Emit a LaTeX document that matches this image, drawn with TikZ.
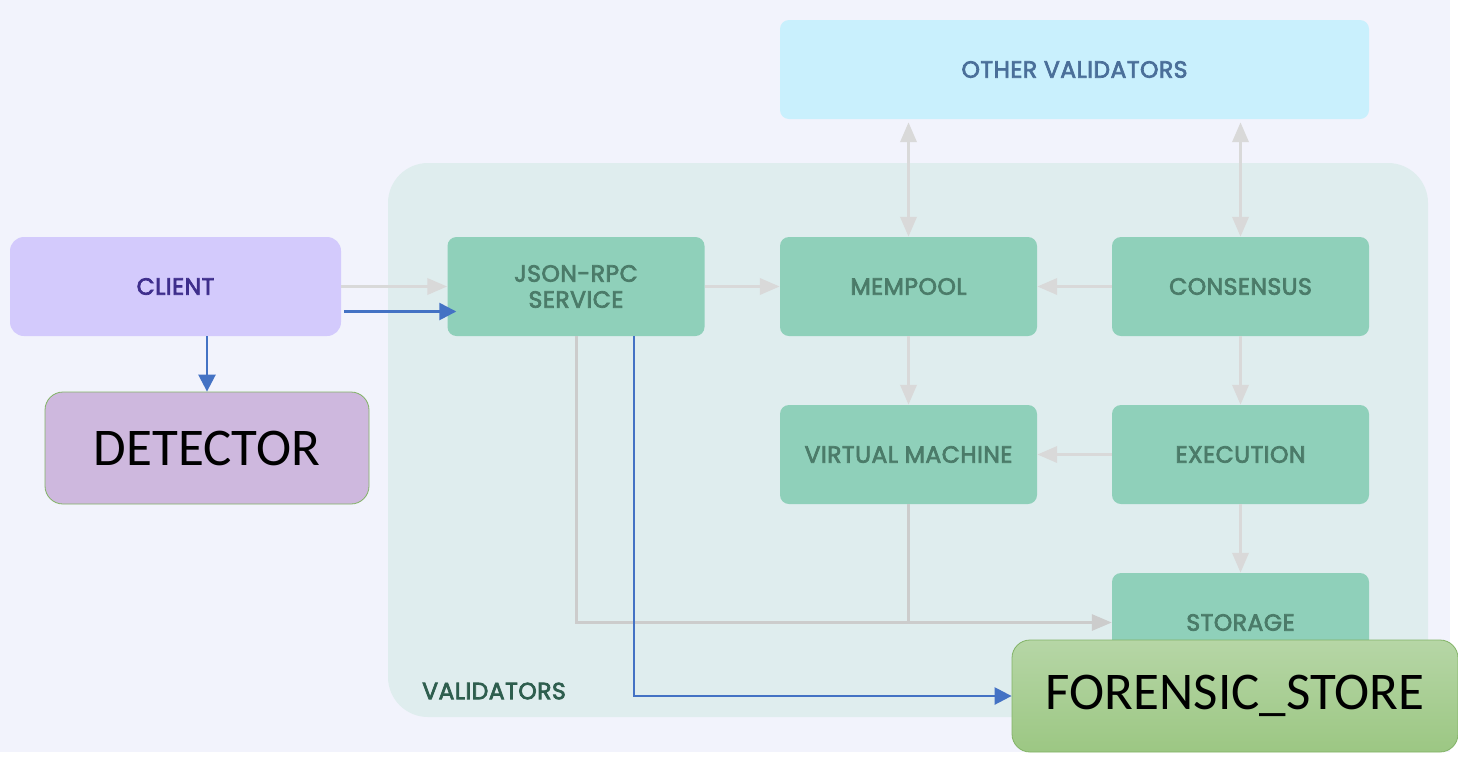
\documentclass[tikz,border=0pt]{standalone}
\usepackage{fontspec}
\setmainfont{Poppins}
\newfontfamily\lblfont{Poppins}[FakeBold=3, LetterSpace=2]
\newfontfamily\calib{Carlito}
\usetikzlibrary{arrows.meta,calc}
\definecolor{bg}{HTML}{F2F3FC}
\definecolor{contfill}{HTML}{DFEDEE}
\definecolor{conttext}{HTML}{2E5E4E}
\definecolor{otherfill}{HTML}{C9F0FD}
\definecolor{othertext}{HTML}{4A6F99}
\definecolor{clientfill}{HTML}{D3CAFC}
\definecolor{clienttext}{HTML}{3E2E8C}
\definecolor{detfill}{HTML}{CEB8DE}
\definecolor{greenborder}{HTML}{82B366}
\definecolor{boxfill}{HTML}{8FD0BA}
\definecolor{boxtext}{HTML}{4B7B69}
\definecolor{fstop}{HTML}{B6D6A6}
\definecolor{fsbot}{HTML}{9CC783}
\definecolor{garr}{HTML}{D9D9D9}
\definecolor{garrdark}{HTML}{CCCCCC}
\definecolor{barr}{HTML}{4472C4}
\begin{document}
\begin{tikzpicture}[x=1pt,y=-1pt,
  lbl/.style={font=\lblfont\fontsize{23.5}{26}\selectfont},
  vbox/.style={lbl, rounded corners=9pt, fill=boxfill, text=boxtext, minimum width=257pt, minimum height=99pt, inner sep=0pt, align=center},
  garrow/.style={draw=garr, line width=3.5pt, -{Triangle[length=20pt,width=16pt]}},
  gdarrow/.style={draw=garrdark, line width=3pt, -{Triangle[length=20pt,width=16pt]}},
  gline/.style={draw=garrdark, line width=3pt},
  barrow/.style={draw=barr, line width=2.5pt, -{Triangle[length=17pt,width=17pt]}},
  bigtext/.style={font=\calib\fontsize{53}{60}\selectfont, text=black}
]
\useasboundingbox (0,0) rectangle (1458,756);
\fill[white] (0,0) rectangle (1458,756);
\fill[bg] (0,0) rectangle (1450,752);

% container
\node[fill=contfill, rounded corners=40pt, minimum width=1040pt, minimum height=554pt, inner sep=0pt] (val) at (908,440) {};
\node[lbl, text=conttext, anchor=west, inner sep=0pt] (vallbl) at (422,691) {VALIDATORS};

% boxes
\node[lbl, fill=otherfill, text=othertext, rounded corners=9pt, minimum width=589pt, minimum height=99pt, inner sep=0pt] (other) at (1074.5,69.5) {OTHER VALIDATORS};
\node[lbl, fill=clientfill, text=clienttext, rounded corners=14pt, minimum width=331pt, minimum height=99pt, inner sep=0pt] (client) at (175.5,286.5) {CLIENT};
\node[bigtext, fill=detfill, draw=greenborder, line width=0.8pt, rounded corners=18pt, minimum width=324pt, minimum height=112pt, inner sep=0pt] (det) at (207,448) {DETECTOR};

\node[vbox] (json) at (576,286.5) {JSON-RPC\\SERVICE};
\node[vbox] (mem) at (908.5,286.5) {MEMPOOL};
\node[vbox] (cons) at (1240.5,286.5) {CONSENSUS};
\node[vbox] (vm) at (908.5,454.5) {VIRTUAL MACHINE};
\node[vbox] (exec) at (1240.5,454.5) {EXECUTION};
\node[vbox] (stor) at (1240.5,622.5) {STORAGE};

% gray connectors
\draw[garrow] (client.east) -- (json.west);
\draw[garrow] (json.east) -- (mem.west);
\draw[garrow] (cons.west) -- (mem.east);
\draw[garrow] (mem.south) -- (vm.north);
\draw[garrow] (cons.south) -- (exec.north);
\draw[garrow] (exec.west) -- (vm.east);
\draw[garrow] (exec.south) -- (stor.north);
\draw[garrow, {Triangle[length=20pt,width=16pt]}-{Triangle[length=20pt,width=16pt]}] (mem.north) -- ([yshift=-3pt]mem.north |- other.south);
\draw[garrow, {Triangle[length=20pt,width=16pt]}-{Triangle[length=20pt,width=16pt]}] (cons.north) -- ([yshift=-3pt]cons.north |- other.south);
\draw[gdarrow] (json.south) -- (json.south |- stor.west) -- (stor.west);
\draw[gline] (vm.south) -- (vm.south |- stor.west);

% forensic store
\node[bigtext, top color=fstop, bottom color=fsbot, draw=greenborder, line width=0.8pt, rounded corners=18pt, minimum width=446pt, minimum height=112pt, inner sep=0pt] (fs) at (1235,696) {FORENSIC\_STORE};

% blue connectors
\draw[barrow] ($(client.east)+(3,25)$) -- ($(json.west)+(9,25)$);
\draw[barrow] (client.south -| det.north) -- (det.north);
\draw[barrow] ($(json.south)+(58,0)$) |- (fs.west);
\end{tikzpicture}
\end{document}
